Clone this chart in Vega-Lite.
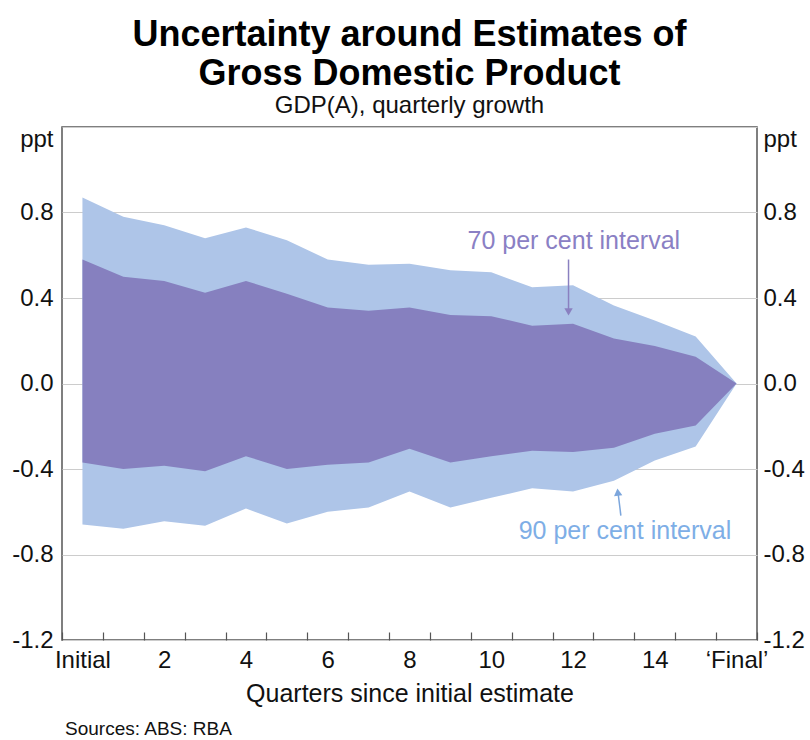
{
  "$schema": "https://vega.github.io/schema/vega-lite/v6.json",
  "autosize": "none",
  "width": 695,
  "height": 513,
  "padding": {"left": 62, "top": 127, "right": 53, "bottom": 100},
  "background": "white",
  "title": {
    "text": ["Uncertainty around Estimates of", "Gross Domestic Product"],
    "subtitle": "GDP(A), quarterly growth",
    "anchor": "middle",
    "font": "Liberation Sans",
    "fontSize": 36,
    "fontWeight": "bold",
    "lineHeight": 39,
    "color": "#000000",
    "subtitleFont": "Liberation Sans",
    "subtitleFontSize": 24,
    "subtitleColor": "#111111",
    "subtitlePadding": 1,
    "offset": 8
  },
  "config": {
    "view": {"stroke": "#555555", "strokeWidth": 1.5},
    "font": "Liberation Sans",
    "axis": {"labelFont": "Liberation Sans", "titleFont": "Liberation Sans", "labelColor": "#111111", "titleColor": "#111111"}
  },
  "datasets": {
    "bands": [
      {"q": 0, "hi90": 0.87, "hi70": 0.58, "lo70": -0.37, "lo90": -0.66},
      {"q": 1, "hi90": 0.78, "hi70": 0.50, "lo70": -0.40, "lo90": -0.68},
      {"q": 2, "hi90": 0.74, "hi70": 0.48, "lo70": -0.385, "lo90": -0.645},
      {"q": 3, "hi90": 0.68, "hi70": 0.425, "lo70": -0.41, "lo90": -0.665},
      {"q": 4, "hi90": 0.73, "hi70": 0.48, "lo70": -0.34, "lo90": -0.585},
      {"q": 5, "hi90": 0.67, "hi70": 0.42, "lo70": -0.40, "lo90": -0.655},
      {"q": 6, "hi90": 0.58, "hi70": 0.355, "lo70": -0.38, "lo90": -0.60},
      {"q": 7, "hi90": 0.555, "hi70": 0.34, "lo70": -0.37, "lo90": -0.58},
      {"q": 8, "hi90": 0.56, "hi70": 0.355, "lo70": -0.305, "lo90": -0.505},
      {"q": 9, "hi90": 0.53, "hi70": 0.32, "lo70": -0.37, "lo90": -0.58},
      {"q": 10, "hi90": 0.52, "hi70": 0.315, "lo70": -0.34, "lo90": -0.535},
      {"q": 11, "hi90": 0.45, "hi70": 0.27, "lo70": -0.315, "lo90": -0.49},
      {"q": 12, "hi90": 0.46, "hi70": 0.28, "lo70": -0.32, "lo90": -0.505},
      {"q": 13, "hi90": 0.365, "hi70": 0.21, "lo70": -0.30, "lo90": -0.455},
      {"q": 14, "hi90": 0.295, "hi70": 0.175, "lo70": -0.235, "lo90": -0.36},
      {"q": 15, "hi90": 0.22, "hi70": 0.125, "lo70": -0.197, "lo90": -0.295},
      {"q": 16, "hi90": 0, "hi70": 0, "lo70": 0, "lo90": 0}
    ]
  },
  "resolve": {"axis": {"x": "independent", "y": "independent"}},
  "layer": [
    {
      "data": {"name": "bands"},
      "mark": {"type": "area", "color": "#aec5e8", "opacity": 1},
      "encoding": {
        "x": {"field": "q", "type": "quantitative",
              "scale": {"domain": [-0.5, 16.5], "nice": false, "zero": false},
              "axis": {"orient": "bottom", "values": [-0.5,0.5,1.5,2.5,3.5,4.5,5.5,6.5,7.5,8.5,9.5,10.5,11.5,12.5,13.5,14.5,15.5,16.5],
                       "labels": false, "title": null, "grid": false, "domain": false,
                       "ticks": true, "tickSize": -8, "tickColor": "#555555", "tickWidth": 1.2}},
        "y": {"field": "hi90", "type": "quantitative",
              "scale": {"domain": [-1.2, 1.2], "nice": false, "zero": false},
              "axis": {"orient": "left", "values": [-1.2,-0.8,-0.4,0,0.4,0.8,1.2],
                       "labelExpr": "datum.value > 1.1 ? 'ppt' : replace(format(datum.value, '.1f'), '\u2212', '-')",
                       "labelBaseline": {"condition": {"test": "datum.value > 1.1", "value": "top"}, "value": "middle"},
                       "labelFontSize": 24, "labelPadding": 9, "ticks": false, "domain": false,
                       "grid": true, "gridColor": "#cccccc", "gridWidth": 1.2, "title": null}},
        "y2": {"field": "lo90"}
      }
    },
    {
      "data": {"name": "bands"},
      "mark": {"type": "area", "color": "#8680bf", "opacity": 1},
      "encoding": {
        "x": {"field": "q", "type": "quantitative", "axis": null},
        "y": {"field": "hi70", "type": "quantitative", "axis": null},
        "y2": {"field": "lo70"}
      }
    },
    {
      "mark": {"type": "rule", "color": "#000000", "strokeWidth": 1},
      "encoding": {"y": {"datum": 0, "type": "quantitative", "axis": null}}
    },
    {
      "data": {"values": [{"x": 12.02, "y": 0.669, "label": "70 per cent interval"}]},
      "mark": {"type": "text", "color": "#8a80c4", "fontSize": 25, "align": "center", "baseline": "middle", "font": "Liberation Sans"},
      "encoding": {
        "x": {"field": "x", "type": "quantitative",
              "axis": {"orient": "bottom", "values": [0,2,4,6,8,10,12,14,16],
                       "labelExpr": "datum.value == 0 ? 'Initial' : datum.value == 16 ? '\u2018Final\u2019' : datum.value",
                       "labelFontSize": 24, "labelPadding": 8, "ticks": false, "domain": false, "grid": false,
                       "title": "Quarters since initial estimate", "titleFontSize": 25, "titleFontWeight": "normal", "titlePadding": 9}},
        "y": {"field": "y", "type": "quantitative",
              "axis": {"orient": "right", "values": [-1.2,-0.8,-0.4,0,0.4,0.8,1.2],
                       "labelExpr": "datum.value > 1.1 ? 'ppt' : replace(format(datum.value, '.1f'), '\u2212', '-')",
                       "labelBaseline": {"condition": {"test": "datum.value > 1.1", "value": "top"}, "value": "middle"},
                       "labelFontSize": 24, "labelPadding": 6, "ticks": false, "domain": false, "grid": false, "title": null}},
        "text": {"field": "label"}
      }
    },
    {
      "data": {"values": [{"x": 13.27, "y": -0.688, "label": "90 per cent interval"}]},
      "mark": {"type": "text", "color": "#7eaee6", "fontSize": 25, "align": "center", "baseline": "middle", "font": "Liberation Sans"},
      "encoding": {
        "x": {"field": "x", "type": "quantitative", "axis": null},
        "y": {"field": "y", "type": "quantitative", "axis": null},
        "text": {"field": "label"}
      }
    },
    {
      "data": {"values": [{"x": 11.89, "y": 0.58, "y2": 0.33}]},
      "mark": {"type": "rule", "color": "#8a80c0", "strokeWidth": 1.5},
      "encoding": {
        "x": {"field": "x", "type": "quantitative", "axis": null},
        "y": {"field": "y", "type": "quantitative", "axis": null},
        "y2": {"field": "y2"}
      }
    },
    {
      "data": {"values": [{"x": 11.89, "y": 0.335}]},
      "mark": {"type": "point", "shape": "triangle-down", "filled": true, "color": "#8a80c0", "size": 70, "opacity": 1},
      "encoding": {
        "x": {"field": "x", "type": "quantitative", "axis": null},
        "y": {"field": "y", "type": "quantitative", "axis": null}
      }
    },
    {
      "data": {"values": [{"x": 13.17, "y": -0.618, "x2": 13.10, "y2": -0.51}]},
      "mark": {"type": "rule", "color": "#7ca6dc", "strokeWidth": 1.5},
      "encoding": {
        "x": {"field": "x", "type": "quantitative", "axis": null},
        "y": {"field": "y", "type": "quantitative", "axis": null},
        "x2": {"field": "x2"},
        "y2": {"field": "y2"}
      }
    },
    {
      "data": {"values": [{"x": 13.095, "y": -0.508}]},
      "mark": {"type": "point", "shape": "triangle-up", "filled": true, "color": "#7ca6dc", "size": 70, "opacity": 1, "angle": -6},
      "encoding": {
        "x": {"field": "x", "type": "quantitative", "axis": null},
        "y": {"field": "y", "type": "quantitative", "axis": null}
      }
    },
    {
      "data": {"values": [{"x": -0.5, "y": -1.615, "label": "Sources: ABS: RBA"}]},
      "mark": {"type": "text", "color": "#111111", "fontSize": 19, "align": "left", "baseline": "middle", "dx": 3, "font": "Liberation Sans"},
      "encoding": {
        "x": {"field": "x", "type": "quantitative", "axis": null},
        "y": {"field": "y", "type": "quantitative", "axis": null},
        "text": {"field": "label"}
      }
    }
  ]
}
